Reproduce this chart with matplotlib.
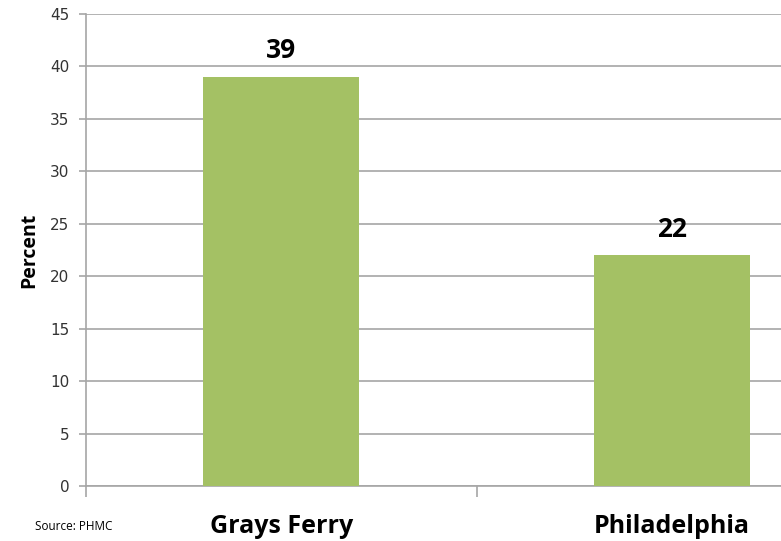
import matplotlib
matplotlib.use("Agg")
import matplotlib.pyplot as plt

categories = ["Grays Ferry", "Philadelphia"]
values = [39, 22]
yticks = [0, 5, 10, 15, 20, 25, 30, 35, 40, 45]

W, H = 781, 541
fig = plt.figure(figsize=(W / 100, H / 100), dpi=100)
ax = fig.add_axes([86 / W, 55 / H, (867 - 86) / W, (486 - 14) / H])

grid_c = "#a6a6a6"
x = list(range(len(categories)))
ax.bar(x, values, width=0.40, color="#A4C164", zorder=3)
ax.set_xlim(-0.5, 1.5)
ax.set_ylim(0, 45)
ax.set_yticks(yticks)
ax.set_yticklabels([str(t) for t in yticks], fontsize=11, color="#333333",
                   family="DejaVu Sans")
for t in yticks:
    ax.axhline(t, color=grid_c, lw=1.2, zorder=1)

for s in ["top", "right"]:
    ax.spines[s].set_visible(False)
ax.spines["left"].set_color(grid_c)
ax.spines["left"].set_linewidth(1.2)
ax.spines["bottom"].set_color(grid_c)
ax.spines["bottom"].set_linewidth(1.2)
ax.tick_params(axis="y", length=5, width=1.2, color=grid_c, pad=7)

ax.set_xticks([-0.5, 0.5, 1.5])
ax.set_xticklabels([])
ax.tick_params(axis="x", which="major", length=8, width=1.2, color=grid_c)
ax.set_xticks(x, minor=True)
ax.set_xticklabels(categories, minor=True, fontsize=18, fontweight="bold",
                   family="Open Sans")
ax.tick_params(axis="x", which="minor", length=0, pad=20)

for xi, v in zip(x, values):
    ax.annotate(str(v), (xi, v), xytext=(0, 9), textcoords="offset points",
                ha="center", va="bottom", fontsize=19, fontweight="bold",
                family="Open Sans")

fig.text(29 / W, 1 - 250 / H, "Percent", rotation=90, ha="center", va="center",
         fontsize=14, fontweight="bold", family="Open Sans")
fig.text(35 / W, 1 - 527 / H, "Source: PHMC", ha="left", va="center",
         fontsize=8.5, family="Open Sans")

fig.savefig("out.png", dpi=100)
